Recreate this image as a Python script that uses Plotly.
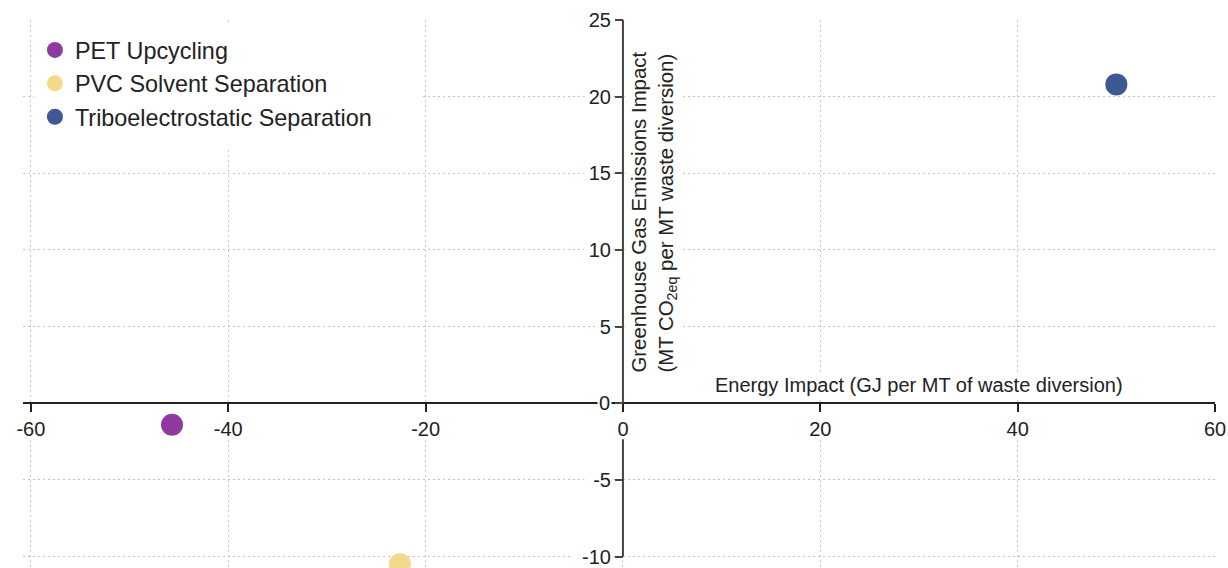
import plotly.graph_objects as go

# Technologies and their impacts per metric ton of waste diverted
technologies = ["PET Upcycling", "PVC Solvent Separation", "Triboelectrostatic Separation"]
energy_impact = [-45.7, -22.6, 50.0]      # GJ per MT
ghg_impact = [-1.4, -10.5, 20.8]           # MT CO2eq per MT
colors = ["#8e3a9e", "#f3d98a", "#3d5893"]

x_ticks = [-60, -40, -20, 0, 20, 40, 60]
y_ticks = [-10, -5, 0, 5, 10, 15, 20, 25]

FONT = "Liberation Sans"
INK = "#222222"
GRID = "#c4c4c4"

x_range = [-60.8, 60]
y_range = [-10.75, 25]

fig = go.Figure()

for name, ex, gy, c in zip(technologies, energy_impact, ghg_impact, colors):
    fig.add_trace(go.Scatter(
        x=[ex], y=[gy], mode="markers", name=name, legendgroup=name,
        showlegend=False,
        marker=dict(size=22, color=c, line=dict(width=0)),
        hovertemplate=f"{name}<br>Energy: %{{x}}<br>GHG: %{{y}}<extra></extra>",
    ))
    # smaller legend swatch
    fig.add_trace(go.Scatter(
        x=[None], y=[None], mode="markers", name=name, legendgroup=name,
        marker=dict(size=17, color=c, line=dict(width=0)),
    ))

def fmt(v):
    return str(v).replace("\u2212", "-")

# axes cross at the origin
x_pos = (0 - y_range[0]) / (y_range[1] - y_range[0])
y_pos = (0 - x_range[0]) / (x_range[1] - x_range[0])

# the y label at the origin is drawn separately, on a white backing
y_ticktext = ["" if v == 0 else fmt(v) for v in y_ticks]

fig.update_layout(
    width=1228, height=568,
    margin=dict(l=23, r=13, t=20, b=0),
    paper_bgcolor="white", plot_bgcolor="white",
    font=dict(family=FONT, size=20, color=INK),
    xaxis=dict(
        range=x_range, anchor="free", position=x_pos,
        showline=True, linecolor=INK, linewidth=1.5,
        ticks="outside", ticklen=8, tickwidth=1.5, tickcolor=INK,
        tickvals=x_ticks, ticktext=[fmt(v) for v in x_ticks],
        tickfont=dict(size=20, color=INK),
        showgrid=True, gridcolor=GRID, gridwidth=1, griddash="2px,3px",
        zeroline=False,
    ),
    yaxis=dict(
        range=y_range, anchor="free", position=y_pos,
        showline=False,
        ticks="outside", ticklen=8, tickwidth=1.5, tickcolor="#444444",
        tickvals=y_ticks, ticktext=y_ticktext,
        tickfont=dict(size=20, color=INK),
        showgrid=True, gridcolor=GRID, gridwidth=1, griddash="2px,3px",
        zeroline=False,
    ),
    legend=dict(
        x=0.01, y=0.985, xanchor="left", yanchor="top",
        bgcolor="rgba(0,0,0,0)", borderwidth=0, tracegroupgap=0,
        font=dict(size=23.4, color=INK, family=FONT),
    ),
    showlegend=True,
)

# white panel behind the legend
fig.add_shape(type="rect", xref="x", yref="y", x0=-59.7, x1=-20.3, y0=16.5, y1=24.8,
              fillcolor="white", line=dict(width=0), layer="between")

# white backing behind tick labels so the dotted grid stops around them
for v in x_ticks:
    half = 0.65 * len(fmt(v)) + 0.2
    fig.add_shape(type="rect", xref="x", yref="y", x0=v - half, x1=v + half,
                  y0=-2.3, y1=-0.65, fillcolor="white", line=dict(width=0),
                  layer="between")
for v in y_ticks:
    if v == 0:
        continue
    fig.add_shape(type="rect", xref="x", yref="y",
                  x0=-(1.6 + 1.15 * len(fmt(v))), x1=-1.0,
                  y0=v - 0.55, y1=v + 0.55, fillcolor="white", line=dict(width=0),
                  layer="between")

# vertical axis line, interrupted under the "0" label
fig.add_shape(type="line", xref="x", yref="y", x0=0, x1=0, y0=25, y1=0,
              line=dict(color="#444444", width=2))
fig.add_shape(type="line", xref="x", yref="y", x0=0, x1=0, y0=-2.35, y1=-10,
              line=dict(color="#444444", width=2))

# y label at the origin
fig.add_annotation(
    text="0", xref="x", yref="y", x=0, y=0, xanchor="right", yanchor="middle",
    xshift=-11, showarrow=False, font=dict(size=20, color=INK),
    bgcolor="white", borderpad=1,
)

# axis titles
fig.add_annotation(
    text="Energy Impact (GJ per MT of waste diversion)",
    xref="x", yref="y", x=30, y=0, xanchor="center", yanchor="bottom",
    yshift=5, showarrow=False, font=dict(size=20, color=INK), bgcolor="white",
)
fig.add_annotation(
    text="Greenhouse Gas Emissions Impact<br>(MT CO<sub>2eq</sub> per MT waste diversion)",
    xref="x", yref="y", x=0, y=12.5, xanchor="left", yanchor="middle",
    xshift=3, textangle=-90, align="left", showarrow=False,
    font=dict(size=20.4, color=INK), bgcolor="white",
)

fig.write_html("out.html")
